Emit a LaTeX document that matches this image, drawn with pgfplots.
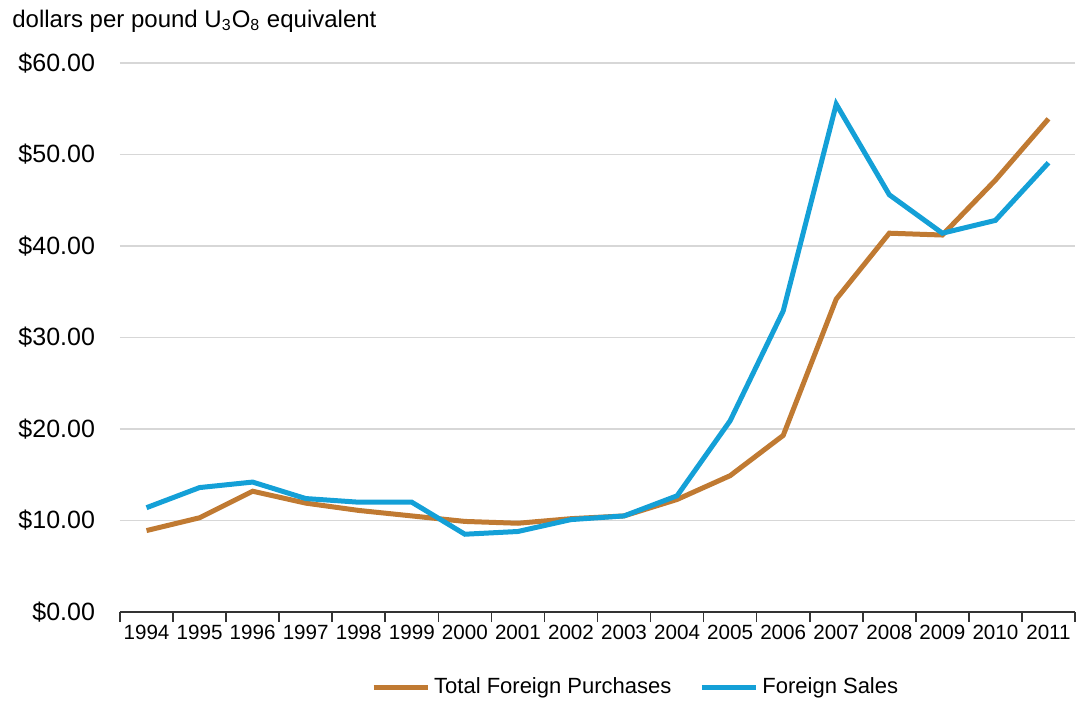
\documentclass[border=0pt]{standalone}
\usepackage{pgfplots}
\pgfplotsset{compat=1.18}
\usepackage{fontspec}
\setmainfont{Liberation Sans}
\definecolor{brownline}{RGB}{192,122,50}
\definecolor{blueline}{RGB}{20,160,215}
\definecolor{gridgray}{RGB}{215,215,215}
\begin{document}
\begin{tikzpicture}
\useasboundingbox (-60pt,-45pt) rectangle (480pt,306pt);
\begin{axis}[
  at={(0,0)}, anchor=south west,
  scale only axis,
  width=477.5pt, height=274.5pt,
  xmin=-0.5, xmax=17.5,
  ymin=0, ymax=60,
  axis lines*=left,
  y axis line style={draw=none},
  x axis line style={black!80, line width=0.8pt, -},
  xtick={0,...,17},
  xticklabels={1994,1995,1996,1997,1998,1999,2000,2001,2002,2003,2004,2005,2006,2007,2008,2009,2010,2011},
  major tick length=0pt,
  minor xtick={-0.5,0.5,...,17.5},
  minor tick length=5pt,
  tick align=outside,
  minor x tick style={black!80, line width=0.8pt},
  xticklabel style={font=\fontsize{10.3}{12}\selectfont, yshift=-3pt},
  ytick={0,10,...,60},
  ymajorgrids,
  grid style={gridgray, line width=0.9pt},
  yticklabel={\$\pgfmathprintnumber[fixed,fixed zerofill,precision=2]{\tick}},
  /pgf/number format/assume math mode=true,
  yticklabel style={font=\fontsize{12.5}{15}\selectfont, xshift=-9pt},
  legend style={at={(axis description cs:0.541,0)}, anchor=center, yshift=-37.5pt, draw=none, legend columns=2,
    font=\fontsize{11}{13}\selectfont, /tikz/every even column/.append style={column sep=12pt}},
  legend image code/.code={\draw[#1, line width=2.5pt] (0pt,0pt) -- (27pt,0pt);},
  clip=false,
]
\addplot[brownline, line width=2.5pt] coordinates {
(0,8.9) (1,10.3) (2,13.2) (3,11.9) (4,11.1) (5,10.5) (6,9.9) (7,9.7) (8,10.2)
(9,10.5) (10,12.3) (11,14.9) (12,19.3) (13,34.2) (14,41.4) (15,41.2) (16,47.2) (17,53.9)};
\addlegendentry{Total Foreign Purchases}
\addplot[blueline, line width=2.5pt] coordinates {
(0,11.4) (1,13.6) (2,14.2) (3,12.4) (4,12.0) (5,12.0) (6,8.5) (7,8.8) (8,10.1)
(9,10.5) (10,12.7) (11,20.9) (12,32.9) (13,55.5) (14,45.6) (15,41.4) (16,42.8) (17,49.1)};
\addlegendentry{Foreign Sales}
\node[anchor=base west, font=\fontsize{12}{14}\selectfont, inner sep=0pt] at ([xshift=-54pt,yshift=18pt]rel axis cs:0,1) {dollars per pound U\textsubscript{3}O\textsubscript{8} equivalent};
\end{axis}
\end{tikzpicture}
\end{document}
